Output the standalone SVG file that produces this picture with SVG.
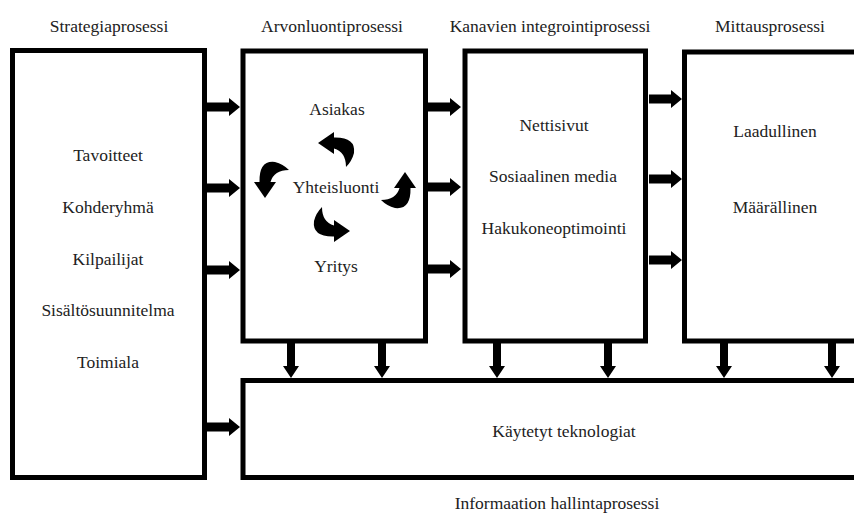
<svg xmlns="http://www.w3.org/2000/svg" xmlns:xlink="http://www.w3.org/1999/xlink" width="854" height="514" viewBox="0 0 854 514">
  <style>
    .box { fill: #fff; stroke: #000; stroke-width: 5; }
    .lbl { font-family: "Liberation Serif", "Times New Roman", serif; font-size: 17.5px; fill: #222; text-anchor: middle; }
    .arr { fill: #000; }
  </style>
  <defs>
    <!-- block arrow pointing right, 33 long -->
    <path id="arrR" d="M0,-4.5 H22 V-9 L33,0 L22,9 V4.5 H0 Z"/>
    <!-- block arrow pointing down, 35 long -->
    <path id="arrD" d="M-4,0 V23 H-8 L0,35 L8,23 H4 V0 Z"/>
    <!-- curved arrow: head points left, tail sweeps right and down -->
    <path id="curl" d="M-18,-7 L-2,-18 L-2,-12.5 Q20,-13 18,3 Q16,11 10,17 Q10,2 -2,-1.5 L-2,4 Z"/>
  </defs>

  <rect width="854" height="514" fill="#fff"/>

  <!-- process titles -->
  <g id="titles">
    <text class="lbl" x="109" y="32">Strategiaprosessi</text>
    <text class="lbl" x="332" y="32">Arvonluontiprosessi</text>
    <text class="lbl" x="550" y="32">Kanavien integrointiprosessi</text>
    <text class="lbl" x="770" y="32">Mittausprosessi</text>
    <text class="lbl" x="557" y="509">Informaation hallintaprosessi</text>
  </g>

  <g id="strategia">
    <rect class="box" x="12.5" y="50.5" width="192" height="427"/>
    <text class="lbl" x="108" y="161">Tavoitteet</text>
    <text class="lbl" x="108" y="213">Kohderyhmä</text>
    <text class="lbl" x="108" y="265">Kilpailijat</text>
    <text class="lbl" x="108" y="316">Sisältösuunnitelma</text>
    <text class="lbl" x="108" y="368">Toimiala</text>
  </g>

  <g id="arvonluonti">
    <rect class="box" x="243" y="51" width="182.5" height="290"/>
    <text class="lbl" x="337" y="115">Asiakas</text>
    <text class="lbl" x="336" y="193">Yhteisluonti</text>
    <text class="lbl" x="336" y="272">Yritys</text>
    <g class="arr">
      <use xlink:href="#curl" href="#curl" transform="translate(336,150)"/>
      <use xlink:href="#curl" href="#curl" transform="translate(272,180) rotate(-90)"/>
      <use xlink:href="#curl" href="#curl" transform="translate(332,224) rotate(180)"/>
      <use xlink:href="#curl" href="#curl" transform="translate(398,190) rotate(90)"/>
    </g>
  </g>

  <g id="kanavat">
    <rect class="box" x="465" y="51" width="180.5" height="290"/>
    <text class="lbl" x="554" y="131">Nettisivut</text>
    <text class="lbl" x="553" y="182">Sosiaalinen media</text>
    <text class="lbl" x="554" y="234">Hakukoneoptimointi</text>
  </g>

  <g id="mittaus">
    <rect class="box" x="684.5" y="52" width="185" height="289"/>
    <text class="lbl" x="775" y="137">Laadullinen</text>
    <text class="lbl" x="775" y="213">Määrällinen</text>
  </g>

  <g id="teknologiat">
    <rect class="box" x="243" y="380.5" width="626" height="97"/>
    <text class="lbl" x="564" y="437">Käytetyt teknologiat</text>
  </g>

  <g id="connectors" class="arr">
    <!-- strategia -> arvonluonti -->
    <use xlink:href="#arrR" href="#arrR" transform="translate(207,107)"/>
    <use xlink:href="#arrR" href="#arrR" transform="translate(207,188)"/>
    <use xlink:href="#arrR" href="#arrR" transform="translate(207,270)"/>
    <!-- arvonluonti -> kanavat -->
    <use xlink:href="#arrR" href="#arrR" transform="translate(428,107)"/>
    <use xlink:href="#arrR" href="#arrR" transform="translate(428,187)"/>
    <use xlink:href="#arrR" href="#arrR" transform="translate(428,269)"/>
    <!-- kanavat -> mittaus -->
    <use xlink:href="#arrR" href="#arrR" transform="translate(649,99)"/>
    <use xlink:href="#arrR" href="#arrR" transform="translate(649,179)"/>
    <use xlink:href="#arrR" href="#arrR" transform="translate(649,260)"/>
    <!-- strategia -> teknologiat -->
    <use xlink:href="#arrR" href="#arrR" transform="translate(207,427)"/>
    <!-- processes -> teknologiat -->
    <use xlink:href="#arrD" href="#arrD" transform="translate(291,343)"/>
    <use xlink:href="#arrD" href="#arrD" transform="translate(382,343)"/>
    <use xlink:href="#arrD" href="#arrD" transform="translate(497,343)"/>
    <use xlink:href="#arrD" href="#arrD" transform="translate(608,343)"/>
    <use xlink:href="#arrD" href="#arrD" transform="translate(724,343)"/>
    <use xlink:href="#arrD" href="#arrD" transform="translate(832,343)"/>
  </g>
</svg>
